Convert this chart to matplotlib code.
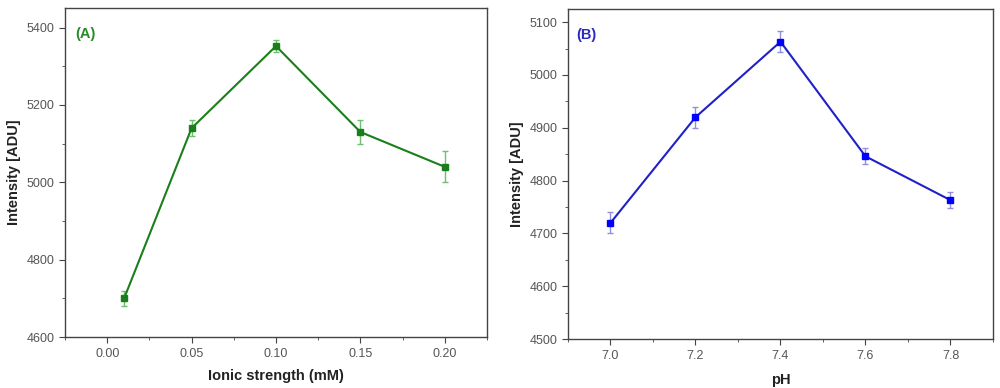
import numpy as np
import matplotlib
matplotlib.use('Agg')
import matplotlib.pyplot as plt
from matplotlib.ticker import MultipleLocator

plt.rcParams['font.family'] = ['Liberation Sans', 'DejaVu Sans']

# (A) Ionenstaerke
ionic = [0.01, 0.05, 0.10, 0.15, 0.20]
int_a = [4700, 5140, 5352, 5130, 5040]
err_a = [20, 20, 15, 30, 40]

# (B) pH
ph = [7.0, 7.2, 7.4, 7.6, 7.8]
int_b = [4720, 4920, 5063, 4846, 4763]
err_b = [20, 20, 20, 15, 15]

fig = plt.figure(figsize=(10, 3.88), dpi=100)
ax1 = fig.add_axes([0.065, 0.131, 0.422, 0.848])
ax2 = fig.add_axes([0.568, 0.126, 0.425, 0.851])


def style(ax):
    for s in ax.spines.values():
        s.set_color('#444444')
        s.set_linewidth(1.0)
    ax.tick_params(which='both', direction='out', top=False, right=False,
                   colors='#444444', labelcolor='#555555', labelsize=9)
    ax.tick_params(which='major', length=4)
    ax.tick_params(which='minor', length=2.5)


# Teil A
ax1.errorbar(ionic, int_a, yerr=err_a, color='#1a7f1a', ecolor='#6fbf6f',
             elinewidth=1, capsize=2.5, marker='s', markersize=4.5, lw=1.5)
ax1.set_xlim(-0.025, 0.225)
ax1.set_ylim(4600, 5450)
ax1.xaxis.set_major_locator(MultipleLocator(0.05))
ax1.xaxis.set_minor_locator(MultipleLocator(0.025))
ax1.yaxis.set_major_locator(MultipleLocator(200))
ax1.yaxis.set_minor_locator(MultipleLocator(100))
ax1.xaxis.set_major_formatter(plt.FormatStrFormatter('%.2f'))
ax1.set_xlabel('Ionic strength (mM)', fontsize=10.5, fontweight='bold',
               color='#222222', labelpad=7)
ax1.set_ylabel('Intensity [ADU]', fontsize=10.5, fontweight='bold', color='#222222')
ax1.text(0.025, 0.92, '(A)', transform=ax1.transAxes, color='#2a8a2a',
         fontsize=10.5, fontweight='bold', va='center')
style(ax1)

# Teil B
ax2.errorbar(ph, int_b, yerr=err_b, color='#2020c8', ecolor='#9090dd',
             elinewidth=1, capsize=2.5, marker='s', markersize=4.5, lw=1.5,
             mfc='#0000ff', mec='#0000ff')
ax2.set_xlim(6.9, 7.9)
ax2.set_ylim(4500, 5125)
ax2.xaxis.set_major_locator(MultipleLocator(0.2))
ax2.xaxis.set_minor_locator(MultipleLocator(0.1))
ax2.yaxis.set_major_locator(MultipleLocator(100))
ax2.yaxis.set_minor_locator(MultipleLocator(50))
ax2.xaxis.set_major_formatter(plt.FormatStrFormatter('%.1f'))
ax2.set_xlabel('pH', fontsize=10.5, fontweight='bold', color='#222222', labelpad=8)
ax2.set_ylabel('Intensity [ADU]', fontsize=10.5, fontweight='bold', color='#222222')
ax2.text(0.02, 0.92, '(B)', transform=ax2.transAxes, color='#2a2ac0',
         fontsize=10.5, fontweight='bold', va='center')
style(ax2)

fig.savefig('out.png', dpi=100)
